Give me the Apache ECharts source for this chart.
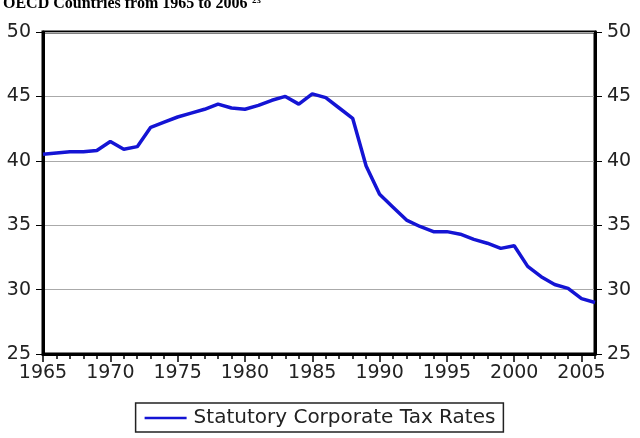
<!DOCTYPE html>
<html>
<head>
<meta charset="utf-8">
<script src="https://cdn.jsdelivr.net/npm/echarts@6/dist/echarts.min.js"></script>
<style>
html,body{margin:0;padding:0;background:#fff;}
#chart{width:640px;height:438px;}
</style>
</head>
<body>
<div id="chart"></div>
<script>
var years = [];
for (var y = 1965; y <= 2006; y++) { years.push(String(y)); }

var seriesName = 'Statutory Corporate Tax Rates';
var taxRates = [
  40.5, 40.6, 40.7, 40.7, 40.8, 41.5, 40.9, 41.1, 42.6, 43.0,
  43.4, 43.7, 44.0, 44.4, 44.1, 44.0, 44.3, 44.7, 45.0, 44.4,
  45.2, 44.9, 44.1, 43.3, 39.6, 37.4, 36.4, 35.4, 34.9, 34.5,
  34.5, 34.3, 33.9, 33.6, 33.2, 33.4, 31.8, 31.0, 30.4, 30.1,
  29.3, 29.0
];
var titleText = 'OECD Countries from 1965 to 2006';
var titleSup = '23';

var chart = echarts.init(document.getElementById('chart'), null, {renderer: 'canvas'});
var labelFont = {color: '#222', fontSize: 19, fontFamily: 'DejaVu Sans'};

chart.setOption({
  animation: false,
  backgroundColor: '#fff',
  graphic: [
    {type: 'text', left: 3, top: -4, style: {text: titleText, font: 'bold 16px "Liberation Serif"', fill: '#000'}},
    {type: 'text', left: 252, top: -4, style: {text: titleSup, font: 'bold 9px "Liberation Serif"', fill: '#000'}}
  ],
  grid: {left: 43, right: 45, top: 32, bottom: 84, show: true, borderColor: '#000', borderWidth: 3, backgroundColor: 'transparent'},
  legend: {
    data: [seriesName],
    bottom: 6, left: 'center',
    borderColor: '#222', borderWidth: 1.5, borderRadius: 0,
    padding: [5, 8, 4, 9],
    itemWidth: 42, itemHeight: 14, itemGap: 8,
    icon: 'path://M0,6 L42,6 L42,8.5 L0,8.5 Z',
    textStyle: {color: '#222', fontSize: 20, fontFamily: 'DejaVu Sans', padding: [0, 0, 0, 2]}
  },
  xAxis: [
    {
      type: 'category', data: years, boundaryGap: false, position: 'bottom',
      axisLine: {show: true, lineStyle: {color: '#000', width: 3}},
      axisTick: {show: true, interval: 0, length: 5, lineStyle: {color: '#000', width: 1.5}},
      axisLabel: Object.assign({interval: 4, margin: 10}, labelFont),
      splitLine: {show: false}
    },
    {
      type: 'category', data: years, boundaryGap: false, position: 'bottom', gridIndex: 0,
      axisLine: {show: false},
      axisTick: {show: true, interval: 4, length: 8, lineStyle: {color: '#000', width: 1.5}},
      axisLabel: {show: false},
      splitLine: {show: false}
    }
  ],
  yAxis: [
    {
      type: 'value', min: 25, max: 50, interval: 5, position: 'left',
      axisLine: {show: true, lineStyle: {color: '#000', width: 3}},
      axisTick: {show: true, length: 7, lineStyle: {color: '#000', width: 1}},
      axisLabel: Object.assign({margin: 12}, labelFont),
      splitLine: {show: true, lineStyle: {color: '#aaa', width: 1.2}}
    },
    {
      type: 'value', min: 25, max: 50, interval: 5, position: 'right',
      axisLine: {show: true, lineStyle: {color: '#000', width: 3}},
      axisTick: {show: true, length: 7, lineStyle: {color: '#000', width: 1}},
      axisLabel: Object.assign({margin: 12}, labelFont),
      splitLine: {show: false}
    }
  ],
  series: [{
    name: seriesName, type: 'line', data: taxRates,
    xAxisIndex: 0, yAxisIndex: 0,
    showSymbol: false, symbol: 'none',
    lineStyle: {color: '#1414d4', width: 3.5},
    itemStyle: {color: '#1414d4'},
    z: 3
  }]
});
</script>
</body>
</html>
